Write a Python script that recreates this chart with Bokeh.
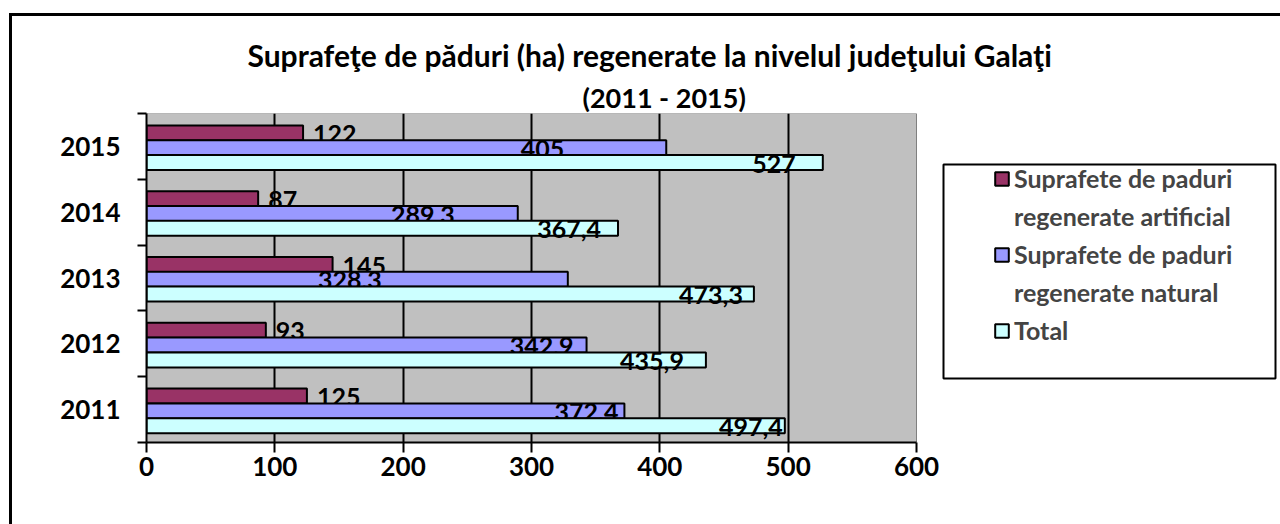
from bokeh.plotting import figure
from bokeh.models import (ColumnDataSource, Range1d, FixedTicker, Legend, LegendItem,
                          Title, BoxAnnotation)
from bokeh.core.properties import value
from bokeh.embed import file_html
from bokeh.resources import INLINE

# ---- data ----
years = ["2011", "2012", "2013", "2014", "2015"]
artificial = [125, 93, 145, 87, 122]
natural = [372.4, 342.9, 328.3, 289.3, 405]
total = [497.4, 435.9, 473.3, 367.4, 527]
x_ticks = [0, 100, 200, 300, 400, 500, 600]
legend_lines = [["Suprafete de paduri", "regenerate artificial"],
                ["Suprafete de paduri", "regenerate natural"],
                ["Total"]]
title_1 = "Suprafeţe de păduri (ha) regenerate la nivelul judeţului Galaţi"
title_2 = "(2011 - 2015)"

# ---- styles / layout ----
FONT = "Lato"
colors = ["#993366", "#9999FF", "#CCFFFF"]
bar_offsets = [0.225, 0.0, -0.225]
label_dx = [[10, 10, 10, 10, 10],
            [-6, -13, -186, -63, -102],
            [-2, -22, -11, -17, -27]]
label_align = ["left", "right", "right"]
label_dy = [1, 1, 1]

W, H = 1271, 511
LEFT, TOP, BOTTOM = 137, 100, 82
PLOT_W = 770                       # pixel width of the 0..600 plot area
frame_w = W - LEFT
x_end = x_ticks[-1] * frame_w / PLOT_W

p = figure(width=W, height=H, output_backend="svg", toolbar_location=None, tools="",
           x_range=Range1d(0, x_end), y_range=Range1d(0, len(years)),
           min_border_left=LEFT, min_border_right=0, min_border_top=TOP,
           min_border_bottom=BOTTOM)
p.margin = (13, 0, 0, 9)
p.styles = {"box-shadow": "inset 3px 3px 0 0 black"}
p.border_fill_color = None
p.background_fill_color = None
p.outline_line_color = None

# grey plot area (behind the grid)
p.quad(left=x_ticks[0], right=x_ticks[-1], bottom=0, top=len(years),
       fill_color="#C0C0C0", line_color="#808080", line_width=1, level="image")


def fmt(v):
    return f"{v:g}".replace(".", ",")


renderers = []
for i, vals in enumerate([artificial, natural, total]):
    ys = [k + 0.5 + bar_offsets[i] - 0.02 for k in range(len(years))]
    src = ColumnDataSource(dict(y=ys, right=vals, lab=[fmt(v) for v in vals],
                                dx=label_dx[i]))
    r = p.hbar(y="y", right="right", left=0, height=0.228, source=src,
               fill_color=colors[i], line_color="black", line_width=2)
    renderers.append(r)
    p.text(x="right", y="y", text="lab", source=src, x_offset="dx", y_offset=label_dy[i],
           text_align=label_align[i], text_baseline="middle",
           text_font=value(FONT), text_font_style="bold", text_font_size="25px",
           text_color="black")

# x axis
xa = p.xaxis[0]
xa.ticker = FixedTicker(ticks=x_ticks)
xa.bounds = (x_ticks[0], x_ticks[-1])
xa.axis_line_width = 2
xa.axis_line_color = "black"
xa.major_tick_out = 10
xa.major_tick_in = 0
xa.major_tick_line_width = 2
xa.minor_tick_line_color = None
xa.major_label_text_font = FONT
xa.major_label_text_font_style = "bold"
xa.major_label_text_font_size = "26px"
xa.major_label_text_color = "black"
xa.major_label_standoff = 4

# y axis
ya = p.yaxis[0]
ya.ticker = FixedTicker(ticks=[k + 0.5 for k in range(len(years))],
                        minor_ticks=list(range(len(years) + 1)))
ya.major_label_overrides = {k + 0.5: years[k] for k in range(len(years))}
ya.axis_line_width = 2
ya.axis_line_color = "black"
ya.major_tick_out = 0
ya.major_tick_in = 0
ya.minor_tick_out = 9
ya.minor_tick_in = 0
ya.minor_tick_line_width = 2
ya.minor_tick_line_color = "black"
ya.major_label_text_font = FONT
ya.major_label_text_font_style = "bold"
ya.major_label_text_font_size = "26px"
ya.major_label_text_color = "black"
ya.major_label_standoff = 17

p.xgrid.ticker = FixedTicker(ticks=x_ticks[1:-1])
p.xgrid.grid_line_color = "black"
p.xgrid.grid_line_width = 2
p.ygrid.grid_line_color = None

# title: two lines (p.title is the outer one, the added Title sits next to the plot)
p.title.text = title_1
p.title.align = "left"
p.title.offset = 101
p.title.standoff = 12
p.title.text_font = FONT
p.title.text_font_style = "bold"
p.title.text_font_size = "30px"
p.title.text_color = "black"
p.add_layout(Title(text=title_2, align="left", offset=436, standoff=0,
                   text_font=FONT, text_font_style="bold", text_font_size="27px",
                   text_color="black"), "above")

# legend frame
p.add_layout(BoxAnnotation(left=797, right=1129, top=278, bottom=64,
                           left_units="screen", right_units="screen",
                           top_units="screen", bottom_units="screen",
                           fill_color=None, line_color="black", line_alpha=1.0,
                           line_width=2))

blank = p.hbar(y=[], right=[], left=0, height=0.1, fill_alpha=0, line_alpha=0)
items = []
for i, lines in enumerate(legend_lines):
    items.append(LegendItem(label=lines[0], renderers=[renderers[i]]))
    for extra in lines[1:]:
        items.append(LegendItem(label=extra, renderers=[blank]))
legend = Legend(items=items, location=(847, 97), orientation="vertical",
                border_line_color=None, background_fill_alpha=0,
                label_text_font=FONT, label_text_font_style="bold",
                label_text_font_size="25px", label_height=29,
                glyph_width=17, glyph_height=17, label_standoff=4,
                spacing=8, padding=0, margin=0)
p.add_layout(legend)

open("out.html", "w").write(file_html(p, INLINE))
